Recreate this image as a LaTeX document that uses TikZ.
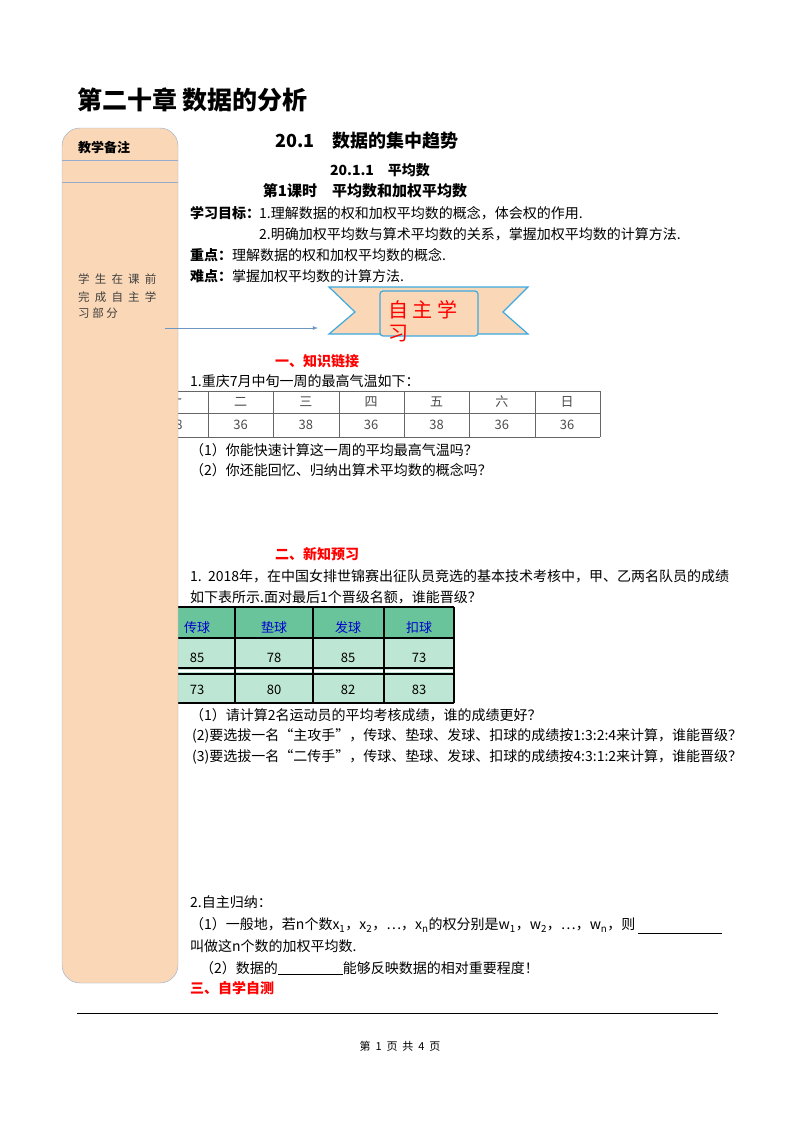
\documentclass[tikz,border=0pt]{standalone}
\usepackage{fontspec}
\setmainfont{Liberation Serif}
\newfontfamily\cjk{Noto Sans CJK SC}
\definecolor{peach}{RGB}{250,215,182}
\definecolor{pborder}{RGB}{150,172,205}
\definecolor{rib}{RGB}{60,170,225}
\definecolor{gh}{RGB}{105,195,155}
\definecolor{gl}{RGB}{190,230,212}
\definecolor{arr}{RGB}{110,150,195}
\begin{document}
\begin{tikzpicture}[x=1pt,y=-1pt,
 t/.style={anchor=west,inner sep=0pt,font=\cjk\fontsize{14}{16}\selectfont},
 tb/.style={t,font=\cjk\bfseries\fontsize{14}{16}\selectfont},
 red/.style={tb,text=red},
 cell/.style={inner sep=0pt,font=\cjk\fontsize{13}{15}\selectfont}]
\useasboundingbox (0,0) rectangle (800,1132);
\fill[white] (0,0) rectangle (800,1132);
\node[tb,font=\cjk\bfseries\fontsize{25}{28}\selectfont] (title) at (77,100) {第二十章\ 数据的分析};
% table 1
\foreach \x in {143,208,273,339,404,469,535,600}{\draw[gray!80!black] (\x,391)--(\x,437);}
\foreach \y in {391,413,437}{\draw[gray!80!black] (143,\y)--(600,\y);}
\foreach \l [count=\i] in {一,二,三,四,五,六,日}{\node[cell,text=black!70] (h\i) at ({110+65.3*\i},402) {\l};}
\foreach \l [count=\i] in {38,36,38,36,38,36,36}{\node[cell,text=black!70] (d\i) at ({110+65.3*\i},425) {\l};}
% table 2
\fill[gh] (150,607) rectangle (454,638);
\fill[gl] (150,638) rectangle (454,703);
\draw[white,line width=2pt] (150,671)--(454,671);
\foreach \x in {160,235,313,384,454}{\draw[line width=1.5pt] (\x,607)--(\x,703);}
\foreach \y in {607,638,668,674,703}{\draw[line width=1.2pt] (150,\y)--(454,\y);}
\foreach \l/\x in {传球/197,垫球/274,发球/348,扣球/419}{\node[cell,text=blue!80!black] at (\x,628) {\l};}
\foreach \a/\b/\x in {85/73/197,78/80/274,85/82/348,73/83/419}{
 \node[cell] at (\x,658) {\a}; \node[cell] at (\x,690) {\b};}
% panel
\draw[pborder,fill=peach,rounded corners=18pt] (62,128) rectangle (178,983);
\draw[pborder] (62,160)--(178,160) (62,182)--(178,182);
\node[tb,font=\cjk\bfseries\fontsize{13}{15}\selectfont] (bz) at (78,148) {教学备注};
\foreach \l/\y in {学\ \ 生\ \ 在\ \ 课\ \ 前/279,完\ \ 成\ \ 自\ \ 主\ \ 学/297,习\ 部\ 分/313}{\node[t,text=black!75,font=\cjk\fontsize{11.5}{13}\selectfont] at (78,\y) {\l};}
\coordinate (a0) at (165,328);
\coordinate (a1) at (318,328);
\draw[arr,thick,-latex] (a0)--(a1);
% headings
\node[inner sep=0pt,font=\cjk\bfseries\fontsize{18}{20}\selectfont] at (367,141) {20.1\quad 数据的集中趋势};
\node[inner sep=0pt,font=\cjk\bfseries\fontsize{14}{16}\selectfont] at (380,170) {20.1.1\quad 平均数};
\node[inner sep=0pt,font=\cjk\bfseries\fontsize{15}{17}\selectfont] at (365,191) {第1课时\quad 平均数和加权平均数};
\node[tb] at (190,213) {学习目标：};
\node[t] at (259,213) {1.理解数据的权和加权平均数的概念，体会权的作用.};
\node[t] at (259,234) {2.明确加权平均数与算术平均数的关系，掌握加权平均数的计算方法.};
\node[tb] at (190,255) {重点：}; \node[t] at (232,255) {理解数据的权和加权平均数的概念.};
\node[tb] at (190,276) {难点：}; \node[t] at (232,276) {掌握加权平均数的计算方法.};
% banner
\draw[rib,fill=peach,line width=1.2pt] (329,287)--(528,287)--(503,312)--(528,334)--(329,334)--(355,312)--cycle;
\draw[rib,fill=peach,line width=1.2pt,rounded corners=3pt] (380,291) rectangle (478,336);
\node[t,text=red,font=\cjk\fontsize{20}{22}\selectfont] at (388,310) {自\ 主\ 学};
\node[t,text=red,font=\cjk\fontsize{20}{22}\selectfont] at (388,334) {习};
% section 1
\node[red] at (275,361) {一、知识链接};
\node[t] at (190,381) {1.重庆7月中旬一周的最高气温如下：};
\node[t] at (190,450) {（1）你能快速计算这一周的平均最高气温吗？};
\node[t] at (190,470) {（2）你还能回忆、归纳出算术平均数的概念吗？};
% section 2
\node[red] at (275,554) {二、新知预习};
\node[t] at (190,576) {1.\ \ 2018年，在中国女排世锦赛出征队员竞选的基本技术考核中，甲、乙两名队员的成绩};
\node[t] at (190,597) {如下表所示.面对最后1个晋级名额，谁能晋级？};
\node[t] at (190,715) {（1）请计算2名运动员的平均考核成绩，谁的成绩更好？};
\node[t] at (192,736) {(2)要选拔一名“主攻手”，传球、垫球、发球、扣球的成绩按1:3:2:4来计算，谁能晋级？};
\node[t] at (192,757) {(3)要选拔一名“二传手”，传球、垫球、发球、扣球的成绩按4:3:1:2来计算，谁能晋级？};
\node[t] at (190,902) {2.自主归纳：};
\node[t] (g1) at (190,925) {（1）一般地，若n个数x\textsubscript{1}，x\textsubscript{2}，…，x\textsubscript{n}的权分别是w\textsubscript{1}，w\textsubscript{2}，…，w\textsubscript{n}，则};
\coordinate (u0) at (638,933);
\coordinate (u1) at (722,933);
\draw (u0) -- (u1);
\node[t] at (190,946) {叫做这n个数的加权平均数.};
\node[t] at (200,968) {（2）数据的\underline{\hspace{65pt}}能够反映数据的相对重要程度！};
\node[red] at (190,988) {三、自学自测};
\draw (77,1013)--(718,1013);
\node[inner sep=0pt,font=\cjk\fontsize{11}{13}\selectfont] at (400,1046) {第\ \ 1\ \ 页\ \ 共\ \ 4\ \ 页};
\end{tikzpicture}
\end{document}
